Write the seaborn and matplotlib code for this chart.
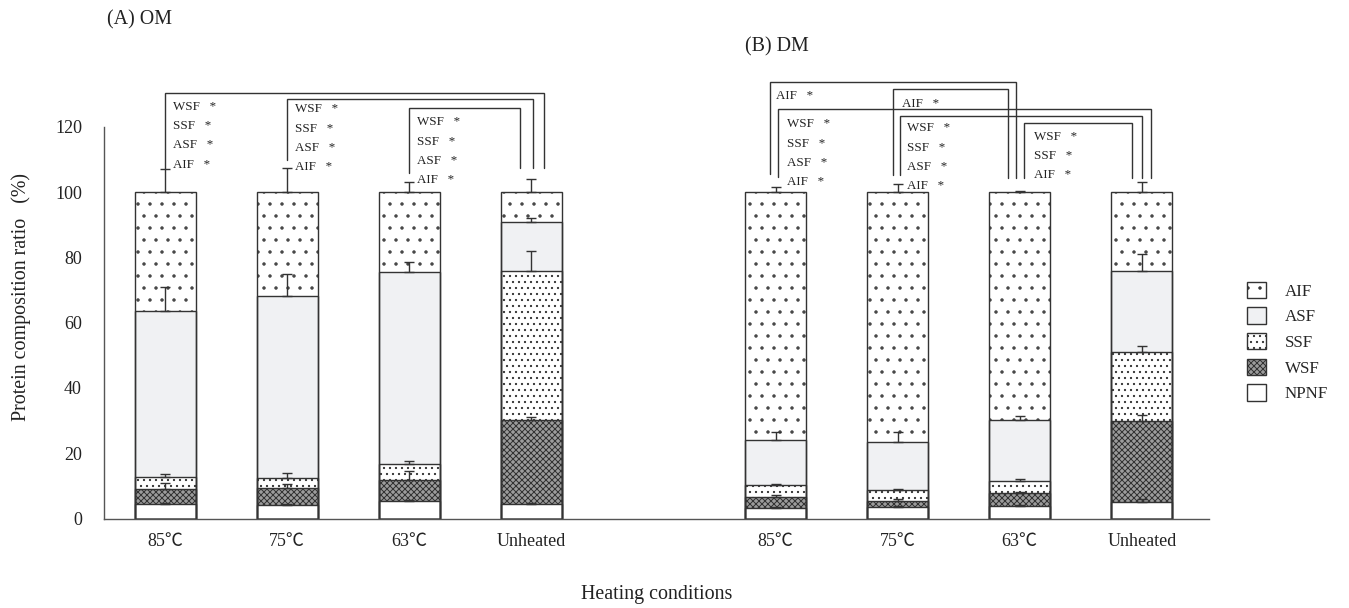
import numpy as np
import pandas as pd
import matplotlib
matplotlib.use("Agg")
import matplotlib.pyplot as plt
import seaborn as sns
from matplotlib.patches import Patch

# x slots (one empty slot between the two panels)
slots = ["OM 85", "OM 75", "OM 63", "OM Unheated", "gap",
         "DM 85", "DM 75", "DM 63", "DM Unheated"]
tick_labels = ["85℃", "75℃", "63℃", "Unheated", "",
               "85℃", "75℃", "63℃", "Unheated"]
groups = ["OM 85", "OM 75", "OM 63", "OM Unheated",
          "DM 85", "DM 75", "DM 63", "DM Unheated"]
fractions = ["NPNF", "WSF", "SSF", "ASF", "AIF"]

# fraction shares (%) per group
npnf = [4.5, 4.1, 5.3, 4.5, 3.2, 3.5, 3.8, 5.0]
wsf = [4.4, 5.2, 6.4, 25.6, 3.4, 2.0, 4.0, 24.8]
ssf = [3.8, 3.2, 5.1, 45.9, 3.7, 3.1, 3.6, 21.2]
asf = [50.8, 55.7, 58.9, 15.0, 13.7, 14.8, 18.7, 25.0]
aif = [36.5, 31.8, 24.3, 9.0, 76.0, 76.6, 69.9, 24.0]

# standard deviations (upper error bars)
npnf_sd = [0.4, 0.4, 0.5, 0.3, 0.3, 0.3, 0.3, 1.0]
wsf_sd = [1.9, 1.2, 2.9, 0.9, 0.5, 0.6, 0.4, 1.9]
ssf_sd = [0.9, 1.4, 0.7, 6.0, 0.3, 0.5, 0.6, 2.0]
asf_sd = [7.5, 6.8, 3.0, 1.0, 2.4, 3.1, 1.2, 5.0]
aif_sd = [7.0, 7.5, 3.0, 4.0, 1.5, 2.5, 0.5, 3.0]

# significance brackets: (start group, start offset, start y, top y,
#                         end group, end offset, end y, labels, label x offset, first label y)
brackets = [
    ("OM 85", 0.0, 107.1, 130.5, "OM Unheated", 0.10, 107.4, ["WSF", "SSF", "ASF", "AIF"], 0.066, 126.2),
    ("OM 75", 0.0, 109.9, 128.5, "OM Unheated", 0.01, 107.4, ["WSF", "SSF", "ASF", "AIF"], 0.066, 125.4),
    ("OM 63", 0.0, 105.8, 125.7, "OM Unheated", -0.09, 107.4, ["WSF", "SSF", "ASF", "AIF"], 0.066, 121.4),
    ("DM 85", -0.045, 105.5, 133.9, "DM 63", -0.03, 104.5, ["AIF"], 0.0, 129.5),
    ("DM 85", 0.02, 104.8, 125.4, "DM Unheated", 0.075, 104.5, ["WSF", "SSF", "ASF", "AIF"], 0.09, 120.8),
    ("DM 75", -0.04, 105.3, 131.6, "DM 63", -0.10, 104.5, ["AIF"], 0.036, 127.1),
    ("DM 75", 0.02, 105.3, 123.4, "DM Unheated", 0.0, 104.5, ["WSF", "SSF", "ASF", "AIF"], 0.08, 119.6),
    ("DM 63", 0.035, 104.3, 121.3, "DM Unheated", -0.083, 104.5, ["WSF", "SSF", "AIF"], 0.12, 117.0),
]

styles = {
    "AIF": dict(face="white", hatch=".", hatchcolor="#444444"),
    "ASF": dict(face="#f0f1f3", hatch=None, hatchcolor="#f0f1f3"),
    "SSF": dict(face="white", hatch="..", hatchcolor="#333333"),
    "WSF": dict(face="#9c9c9c", hatch="xxxx", hatchcolor="#333333"),
    "NPNF": dict(face="white", hatch=None, hatchcolor="white"),
}

values = {"NPNF": npnf, "WSF": wsf, "SSF": ssf, "ASF": asf, "AIF": aif}
sds = {"NPNF": npnf_sd, "WSF": wsf_sd, "SSF": ssf_sd, "ASF": asf_sd, "AIF": aif_sd}

df = pd.DataFrame({"slot": groups})
running = np.zeros(len(groups))
for f in fractions:
    running = running + np.array(values[f])
    df[f] = running

sns.set_style("white")
plt.rcParams["font.family"] = ["Liberation Serif", "Noto Sans CJK JP"]
plt.rcParams["hatch.linewidth"] = 1.0
plt.rcParams["axes.unicode_minus"] = False

line_c = "#333333"
fig = plt.figure(figsize=(1349 / 72, 608 / 72), dpi=72)
ax = fig.add_axes([104 / 1349, 0.1472, 1105 / 1349, 0.7298])

# fills, drawn from the top cumulative layer downwards
for f in reversed(fractions):
    st = styles[f]
    sns.barplot(data=df, x="slot", y=f, order=slots, width=0.5, color=st["face"],
                saturation=1, errorbar=None, edgecolor=st["hatchcolor"], linewidth=0,
                hatch=st["hatch"], ax=ax)
# outlines
for f in reversed(fractions):
    sns.barplot(data=df, x="slot", y=f, order=slots, width=0.5, color=line_c,
                fill=False, errorbar=None, linewidth=1.4, ax=ax)

pos = np.array([slots.index(g) for g in groups])
for f in fractions:
    ax.errorbar(pos, df[f], yerr=[np.zeros(len(groups)), sds[f]], fmt="none",
                ecolor=line_c, elinewidth=1.4, capsize=5, capthick=1.4, zorder=6)

for (g0, o0, y0, top, g1, o1, y1, labels, lx, ly) in brackets:
    x0 = slots.index(g0) + o0
    x1 = slots.index(g1) + o1
    ax.plot([x0, x0, x1, x1], [y0, top, top, y1], color=line_c, lw=1.4,
            solid_joinstyle="miter", clip_on=False, zorder=7)
    for i, lab in enumerate(labels):
        ax.text(slots.index(g0) + lx, ly - i * 5.9, lab + "   *", fontsize=13,
                ha="left", va="center", color="#222222")

ax.set_xlim(-0.5, 8.55)
ax.set_ylim(0, 136)
ax.set_yticks([0, 20, 40, 60, 80, 100, 120])
ax.set_xticks(range(len(slots)))
ax.set_xticklabels(tick_labels)
ax.tick_params(length=0, labelsize=18, colors="#222222")
ax.tick_params(axis="y", pad=22)
ax.tick_params(axis="x", pad=14)
for side in ["top", "right"]:
    ax.spines[side].set_visible(False)
for side in ["left", "bottom"]:
    ax.spines[side].set_color("#555555")
    ax.spines[side].set_linewidth(1.4)
ax.spines["left"].set_bounds(0, 120)

ax.set_xlabel("Heating conditions", fontsize=20, labelpad=35, color="#222222")
ax.set_ylabel("Protein composition ratio   (%)", fontsize=20, labelpad=24, color="#222222")

fig.text(107 / 1349, 1 - 20 / 608, "(A) OM", fontsize=20, ha="left", va="center", color="#222222")
fig.text(745 / 1349, 1 - 47 / 608, "(B) DM", fontsize=20, ha="left", va="center", color="#222222")

handles = [Patch(facecolor=styles[f]["face"], edgecolor=line_c, hatch=styles[f]["hatch"],
                 linewidth=1.4, label=f) for f in reversed(fractions)]
fig.legend(handles=handles, loc="center left", bbox_to_anchor=(1232 / 1349, 1 - 342 / 608),
           frameon=False, fontsize=17, handlelength=1.1, handleheight=1.1,
           labelspacing=0.45, handletextpad=1.1)

fig.savefig("out.png", dpi=72)
